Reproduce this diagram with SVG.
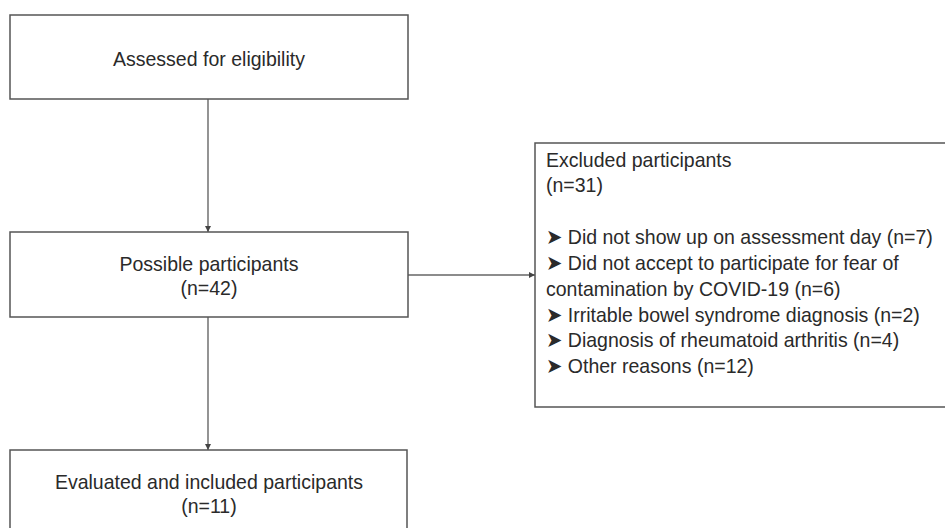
<svg xmlns="http://www.w3.org/2000/svg" width="945" height="528" viewBox="0 0 945 528">
<style>
.box{fill:#fff;stroke:#555;stroke-width:1.5}
.t{font-family:"Liberation Sans",Arial,"DejaVu Sans",sans-serif;font-size:21px;fill:#2a2a2a}
.c{text-anchor:middle}
.edge{stroke:#666;stroke-width:1.4;fill:none}
.sym{font-family:"DejaVu Sans",sans-serif;font-size:21px}
</style>
<defs>
<marker id="ah" viewBox="0 0 10 10" refX="10" refY="5" markerWidth="6" markerHeight="6" orient="auto" markerUnits="userSpaceOnUse">
<path d="M0,0 L10,5 L0,10 z" fill="#444"/>
</marker>
</defs>
<rect width="945" height="528" fill="#fff"/>
<g id="connectors">
<line class="edge" x1="208" y1="99" x2="208" y2="232" marker-end="url(#ah)"/>
<line class="edge" x1="208" y1="317" x2="208" y2="450" marker-end="url(#ah)"/>
<line class="edge" x1="408" y1="275" x2="535" y2="275" marker-end="url(#ah)"/>
</g>
<g id="assessed">
<rect class="box" x="10" y="15" width="398" height="84"/>
<g transform="scale(0.93 1)">
<text class="t c" x="224.7" y="66">Assessed for eligibility</text>
</g>
</g>
<g id="possible">
<rect class="box" x="10" y="232" width="398" height="85"/>
<g transform="scale(0.93 1)">
<text class="t c" x="224.7" y="271">Possible participants</text>
<text class="t c" x="224.7" y="295">(n=42)</text>
</g>
</g>
<g id="excluded">
<rect class="box" x="535" y="143" width="420" height="264"/>
<g transform="scale(0.93 1)">
<text class="t" x="587.1" y="167">Excluded participants</text>
<text class="t" x="587.1" y="192">(n=31)</text>
<text class="t" x="587.1" y="244"><tspan class="sym">➤</tspan> Did not show up on assessment day (n=7)</text>
<text class="t" x="587.1" y="270"><tspan class="sym">➤</tspan> Did not accept to participate for fear of</text>
<text class="t" x="587.1" y="296">contamination by COVID-19 (n=6)</text>
<text class="t" x="587.1" y="322"><tspan class="sym">➤</tspan> Irritable bowel syndrome diagnosis (n=2)</text>
<text class="t" x="587.1" y="347"><tspan class="sym">➤</tspan> Diagnosis of rheumatoid arthritis (n=4)</text>
<text class="t" x="587.1" y="373"><tspan class="sym">➤</tspan> Other reasons (n=12)</text>
</g>
</g>
<g id="evaluated">
<rect class="box" x="10" y="450" width="397" height="90"/>
<g transform="scale(0.93 1)">
<text class="t c" x="224.7" y="489">Evaluated and included participants</text>
<text class="t c" x="224.7" y="513">(n=11)</text>
</g>
</g>
</svg>
